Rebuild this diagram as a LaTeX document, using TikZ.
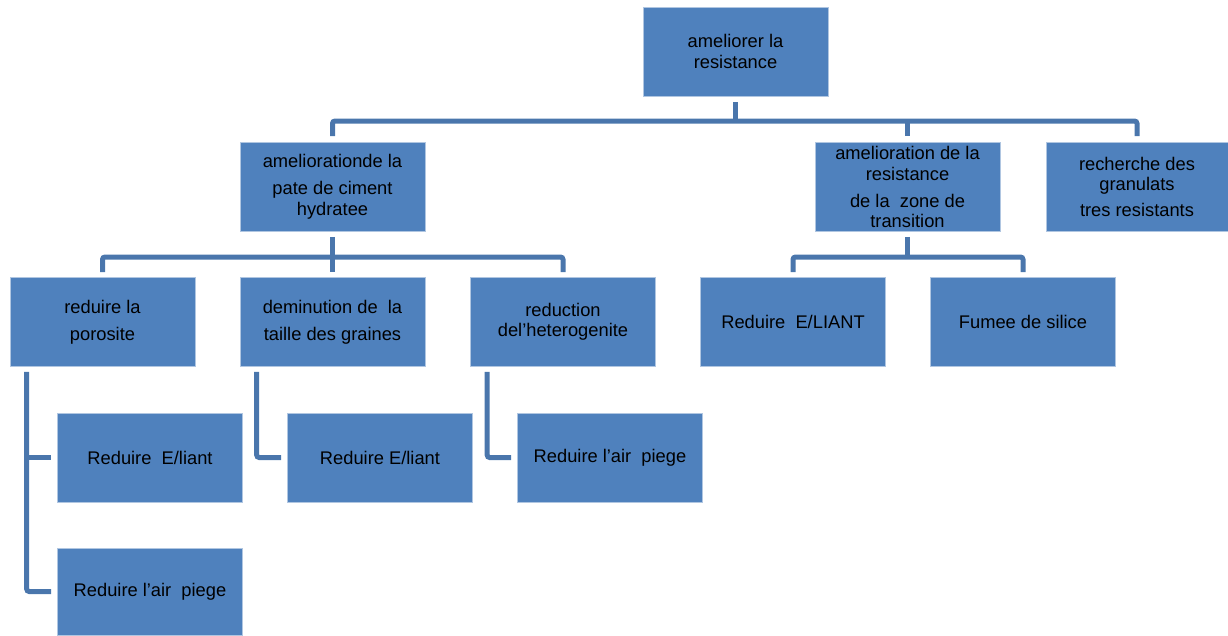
\documentclass[tikz,border=0pt]{standalone}
\usepackage{fontspec}
\setmainfont{Liberation Sans}
\definecolor{boxblue}{HTML}{4F81BD}
\definecolor{linkblue}{HTML}{4A76AC}
\begin{document}
\begin{tikzpicture}[x=1pt,y=-1pt,
  box/.style={rectangle, fill=boxblue, draw=white!55!boxblue, line width=0.6pt,
    minimum width=185pt, minimum height=89pt, inner sep=0pt, align=center,
    font=\fontsize{18.3}{20.5}\selectfont, text=black},
  conn/.style={draw=linkblue, line width=5pt, rounded corners=2.5pt}]
\useasboundingbox (0,0) rectangle (1228,635);
% nodes
\node[box] (top) at (735.5,51.5) {ameliorer la\hspace{12pt}\\resistance\hspace{12pt}};
\node[box] (a) at (332.5,187) {ameliorationde la\\[6.5pt]pate de ciment\\hydratee};
\node[box] (b) at (907.5,187) {amelioration de la\\resistance\\[6.5pt]de la~~zone de\\transition};
\node[box,minimum width=182pt] (c) at (1137,187) {recherche des\\granulats\\[5.5pt]tres resistants};
\node[box] (p) at (102.5,322) {reduire la\\[6.5pt]porosite};
\node[box] (d) at (332.5,322) {deminution de~~la\\[6.5pt]taille des graines};
\node[box] (r) at (563,322) {reduction\\del’heterogenite};
\node[box] (bE) at (793,322) {Reduire~~E/LIANT};
\node[box] (bF) at (1023,322) {Fumee de silice};
\node[box] (pE) at (150,457.5) {Reduire~~E/liant};
\node[box,minimum height=87pt] (pA) at (150,591.5) {Reduire l’air~~piege};
\node[box] (dE) at (380,457.5) {Reduire E/liant};
\node[box] (rA) at (610,457.5) {Reduire l’air~~piege};
% level 1 connectors
\draw[conn] ([yshift=-6pt]top.south) -- (top.south |- 0,121);
\draw[conn] ([yshift=6pt]a.north) |- (c.north |- 0,121) -- ([yshift=6pt]c.north);
\draw[conn] (b.north |- 0,121) -- ([yshift=6pt]b.north);
% level 2 connectors from a
\draw[conn] ([yshift=-5pt]a.south) -- (a.south |- 0,257);
\draw[conn] ([yshift=5pt]p.north) |- (r.north |- 0,257) -- ([yshift=5pt]r.north);
\draw[conn] (d.north |- 0,257) -- ([yshift=5pt]d.north);
% level 2 connectors from b
\draw[conn] ([yshift=-5pt]b.south) -- (b.south |- 0,257);
\draw[conn] ([yshift=5pt]bE.north) |- (bF.north |- 0,257) -- ([yshift=5pt]bF.north);
% side connectors
\draw[conn] ([xshift=17pt,yshift=-5pt]p.south west) |- ([xshift=-6pt]pA.west);
\draw[conn] ([xshift=17pt]p.south west |- pE.west) -- ([xshift=-6pt]pE.west);
\draw[conn] ([xshift=17pt,yshift=-5pt]d.south west) |- ([xshift=-6pt]dE.west);
\draw[conn] ([xshift=17pt,yshift=-5pt]r.south west) |- ([xshift=-6pt]rA.west);
\end{tikzpicture}
\end{document}
